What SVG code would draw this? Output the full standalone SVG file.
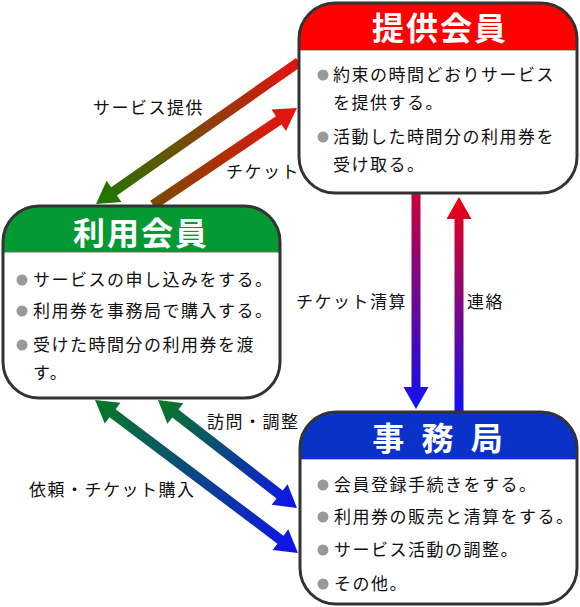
<svg xmlns="http://www.w3.org/2000/svg" width="580" height="607" viewBox="0 0 580 607">
<style>
.sep{stroke:#bbb;stroke-width:1}
.title{font-family:"Noto Sans CJK JP","Noto Sans",sans-serif;font-weight:bold;font-size:32px;fill:#fff;text-anchor:middle;letter-spacing:2px}
.body{font-family:"Noto Sans CJK JP","Noto Sans",sans-serif;font-size:17px;fill:#111;letter-spacing:1.5px}
.lbl{font-family:"Noto Sans CJK JP","Noto Sans",sans-serif;font-size:17px;fill:#111;letter-spacing:1.5px}
.dot{fill:#999}
.frame{fill:none;stroke:#333;stroke-width:3}
</style>
<defs>
<linearGradient id="gRG" x1="0" y1="0" x2="1" y2="0"><stop offset="0" stop-color="#e81010"/><stop offset="1" stop-color="#1a7a00"/></linearGradient>
<linearGradient id="gBrR" x1="0" y1="0" x2="1" y2="0"><stop offset="0" stop-color="#7a4a00"/><stop offset="1" stop-color="#ec1010"/></linearGradient>
<linearGradient id="gCB" x1="0" y1="0" x2="1" y2="0"><stop offset="0" stop-color="#c8003c"/><stop offset="1" stop-color="#1010f0"/></linearGradient>
<linearGradient id="gBR" x1="0" y1="0" x2="1" y2="0"><stop offset="0" stop-color="#1010f0"/><stop offset="1" stop-color="#f00010"/></linearGradient>
<linearGradient id="gGB" x1="0" y1="0" x2="1" y2="0"><stop offset="0" stop-color="#087a20"/><stop offset="1" stop-color="#1010f0"/></linearGradient>
</defs>

<g id="connectors">
  <g transform="translate(299,62) rotate(145.03)"><polygon fill="url(#gRG)" points="0,-5 225.7,-5 225.7,-13 247.7,0 225.7,13 225.7,5 0,5"/></g>
  <g transform="translate(153,205) rotate(-33.96)"><polygon fill="url(#gBrR)" points="0,-5 151.6,-5 151.6,-13 173.6,0 151.6,13 151.6,5 0,5"/></g>
  <g transform="translate(416,194) rotate(90)"><polygon fill="url(#gCB)" points="0,-4.5 193,-4.5 193,-12.5 215,0 193,12.5 193,4.5 0,4.5"/></g>
  <g transform="translate(459,412) rotate(-90)"><polygon fill="url(#gBR)" points="0,-4.5 193,-4.5 193,-12.5 215,0 193,12.5 193,4.5 0,4.5"/></g>
  <g transform="translate(158,400) rotate(37.85)"><polygon fill="url(#gGB)" points="0,0 22,-13 22,-5 154,-5 154,-13 176,0 154,13 154,5 22,5 22,13"/></g>
  <g transform="translate(95,400) rotate(37.0)"><polygon fill="url(#gGB)" points="0,0 22,-13 22,-5 232.2,-5 232.2,-13 254.2,0 232.2,13 232.2,5 22,5 22,13"/></g>
  <text class="lbl" x="93" y="114">サービス提供</text>
  <text class="lbl" x="226" y="178">チケット</text>
  <text class="lbl" x="296" y="308">チケット清算</text>
  <text class="lbl" x="467" y="308">連絡</text>
  <text class="lbl" x="207" y="428">訪問・調整</text>
  <text class="lbl" x="29" y="496">依頼・チケット購入</text>
</g>

<g id="provider">
  <rect x="299" y="3" width="278" height="190" rx="36" ry="36" fill="#fff"/>
  <path fill="#ff0000" d="M299,50 V39 A36,36 0 0 1 335,3 H541 A36,36 0 0 1 577,39 V50 Z"/>
  <line class="sep" x1="299" y1="50.5" x2="577" y2="50.5"/>
  <rect class="frame" x="299" y="3" width="278" height="190" rx="36" ry="36"/>
  <text class="title" x="440" y="40">提供会員</text>
  <circle class="dot" cx="323" cy="75" r="5.5"/>
  <text class="body" x="333" y="81">約束の時間どおりサービス</text>
  <text class="body" x="333" y="109">を提供する。</text>
  <circle class="dot" cx="323" cy="137" r="5.5"/>
  <text class="body" x="333" y="143">活動した時間分の利用券を</text>
  <text class="body" x="333" y="171">受け取る。</text>
</g>

<g id="member">
  <rect x="3" y="206" width="277" height="192" rx="36" ry="36" fill="#fff"/>
  <path fill="#069933" d="M3,252 V242 A36,36 0 0 1 39,206 H244 A36,36 0 0 1 280,242 V252 Z"/>
  <line class="sep" x1="3" y1="252.5" x2="280" y2="252.5"/>
  <rect class="frame" x="3" y="206" width="277" height="192" rx="36" ry="36"/>
  <text class="title" x="141" y="245">利用会員</text>
  <circle class="dot" cx="22" cy="280" r="5.5"/>
  <text class="body" x="33" y="286">サービスの申し込みをする。</text>
  <circle class="dot" cx="22" cy="311" r="5.5"/>
  <text class="body" x="33" y="317">利用券を事務局で購入する。</text>
  <circle class="dot" cx="22" cy="345" r="5.5"/>
  <text class="body" x="33" y="351">受けた時間分の利用券を渡</text>
  <text class="body" x="33" y="379">す。</text>
</g>

<g id="office">
  <rect x="300" y="412" width="277" height="192" rx="36" ry="36" fill="#fff"/>
  <path fill="#0a32c8" d="M300,459 V448 A36,36 0 0 1 336,412 H541 A36,36 0 0 1 577,448 V459 Z"/>
  <line class="sep" x1="300" y1="459.5" x2="577" y2="459.5"/>
  <rect class="frame" x="300" y="412" width="277" height="192" rx="36" ry="36"/>
  <text class="title" x="440" y="450" style="letter-spacing:5px">事 務 局</text>
  <circle class="dot" cx="323" cy="485" r="5.5"/>
  <text class="body" x="334" y="491">会員登録手続きをする。</text>
  <circle class="dot" cx="323" cy="517" r="5.5"/>
  <text class="body" x="334" y="523">利用券の販売と清算をする。</text>
  <circle class="dot" cx="323" cy="550" r="5.5"/>
  <text class="body" x="334" y="556">サービス活動の調整。</text>
  <circle class="dot" cx="323" cy="584" r="5.5"/>
  <text class="body" x="334" y="590">その他。</text>
</g>
</svg>
